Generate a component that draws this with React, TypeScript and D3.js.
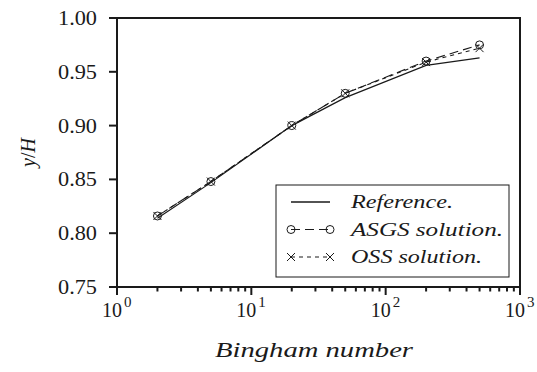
import * as d3 from "d3";

const bingham = [2, 5, 20, 50, 200, 500];
const reference = [0.814, 0.847, 0.9, 0.926, 0.956, 0.963];
const asgs = [0.816, 0.848, 0.9, 0.93, 0.96, 0.975];
const oss = [0.816, 0.848, 0.9, 0.93, 0.959, 0.972];
const yTicks = [0.75, 0.8, 0.85, 0.9, 0.95, 1.0];
const xDecades = [0, 1, 2, 3];
const legendLabels = ["Reference.", "ASGS solution.", "OSS solution."];

const W = 537;
const H = 372;
const margin = { top: 18, right: 17, bottom: 85, left: 117 };
const ink = "#1a1a1a";
const serifStyle = { fontFamily: "Liberation Serif, DejaVu Serif, Times New Roman, Times, serif" };

const App = () => {
  const x = d3
    .scaleLog()
    .domain([1, 1000])
    .range([margin.left, W - margin.right]);
  const y = d3
    .scaleLinear()
    .domain([0.75, 1.0])
    .range([H - margin.bottom, margin.top]);

  const line = d3
    .line<number>()
    .x((_, i) => x(bingham[i]))
    .y((d) => y(d));

  const minor: number[] = [];
  for (let e = 0; e < 3; e++) {
    for (let k = 2; k <= 9; k++) minor.push(k * Math.pow(10, e));
  }

  const [x0, x1] = x.range();
  const [y0, y1] = y.range();

  const legend = { x: 276, y: 185, w: 233, h: 92 };
  const rows = [
    { dash: "none", marker: "none", len: 102 },
    { dash: "9,5", marker: "circle", len: 152 },
    { dash: "4,4", marker: "cross", len: 131 },
  ];

  const circle = (cx: number, cy: number, key: string) => (
    <circle key={key} cx={cx} cy={cy} r={4} fill="none" stroke={ink} strokeWidth={1} />
  );
  const cross = (cx: number, cy: number, key: string) => (
    <path
      key={key}
      d={`M${cx - 4},${cy - 4}L${cx + 4},${cy + 4}M${cx - 4},${cy + 4}L${cx + 4},${cy - 4}`}
      stroke={ink}
      strokeWidth={1}
      fill="none"
    />
  );

  return (
    <svg
      width={W}
      height={H}
      style={{ position: "absolute", left: 0, top: 0, background: "#fff" }}
    >
      {/* data */}
      <path d={line(reference) ?? ""} fill="none" stroke={ink} strokeWidth={1.2} />
      <path d={line(asgs) ?? ""} fill="none" stroke={ink} strokeWidth={1.1} strokeDasharray="9,5" />
      <path d={line(oss) ?? ""} fill="none" stroke={ink} strokeWidth={1.1} strokeDasharray="4,4" />
      {asgs.map((v, i) => circle(x(bingham[i]), y(v), `c${i}`))}
      {oss.map((v, i) => cross(x(bingham[i]), y(v), `x${i}`))}

      {/* frame */}
      <rect x={x0} y={y1} width={x1 - x0} height={y0 - y1} fill="none" stroke={ink} strokeWidth={2} />

      {/* y ticks */}
      {yTicks.map((t) => (
        <g key={t}>
          <line x1={x0 - 8} x2={x0} y1={y(t)} y2={y(t)} stroke={ink} strokeWidth={2} />
          <text
            x={x0 - 20}
            y={y(t) + 7}
            textAnchor="end"
            style={serifStyle}
            fontSize={20}
            textLength={39}
            lengthAdjust="spacingAndGlyphs"
            fill={ink}
          >
            {t.toFixed(2)}
          </text>
        </g>
      ))}

      {/* x ticks */}
      {minor.map((t) => (
        <line key={t} x1={x(t)} x2={x(t)} y1={y0} y2={y0 + 4.5} stroke={ink} strokeWidth={2} />
      ))}
      {xDecades.map((e) => {
        const t = Math.pow(10, e);
        return (
          <g key={e}>
            <line x1={x(t)} x2={x(t)} y1={y0} y2={y0 + 8} stroke={ink} strokeWidth={2} />
            <text
              x={x(t) - 5}
              y={317}
              textAnchor="middle"
              style={serifStyle}
              fontSize={20}
              fill={ink}
            >
              10
            </text>
            <text x={x(t) + 7} y={307} style={serifStyle} fontSize={15} fill={ink}>
              {e}
            </text>
          </g>
        );
      })}

      {/* axis labels */}
      <text
        x={314}
        y={357}
        textAnchor="middle"
        style={serifStyle}
        fontStyle="italic"
        fontSize={20}
        textLength={198}
        lengthAdjust="spacingAndGlyphs"
        fill={ink}
      >
        Bingham number
      </text>
      <text
        transform={`translate(35,${(y0 + y1) / 2}) rotate(-90)`}
        textAnchor="middle"
        style={serifStyle}
        fontSize={20}
        fill={ink}
      >
        <tspan fontStyle="italic">y</tspan>/<tspan fontStyle="italic">H</tspan>
      </text>

      {/* legend */}
      <rect
        x={legend.x}
        y={legend.y}
        width={legend.w}
        height={legend.h}
        fill="#fff"
        stroke={ink}
        strokeWidth={1}
      />
      {rows.map((r, i) => {
        const cy = 202 + i * 27.5;
        const lx0 = 291;
        const lx1 = 330;
        return (
          <g key={legendLabels[i]}>
            <line
              x1={lx0}
              x2={lx1}
              y1={cy}
              y2={cy}
              stroke={ink}
              strokeWidth={i === 0 ? 1.5 : 1.1}
              strokeDasharray={r.dash === "none" ? undefined : r.dash}
            />
            {r.marker === "circle" && [circle(lx0, cy, "a"), circle(lx1, cy, "b")]}
            {r.marker === "cross" && [cross(lx0, cy, "a"), cross(lx1, cy, "b")]}
            <text
              x={351}
              y={cy + 6}
              style={serifStyle}
              fontStyle="italic"
              fontSize={19}
              textLength={r.len}
              lengthAdjust="spacingAndGlyphs"
              fill={ink}
            >
              {legendLabels[i]}
            </text>
          </g>
        );
      })}
    </svg>
  );
};

export default App;
